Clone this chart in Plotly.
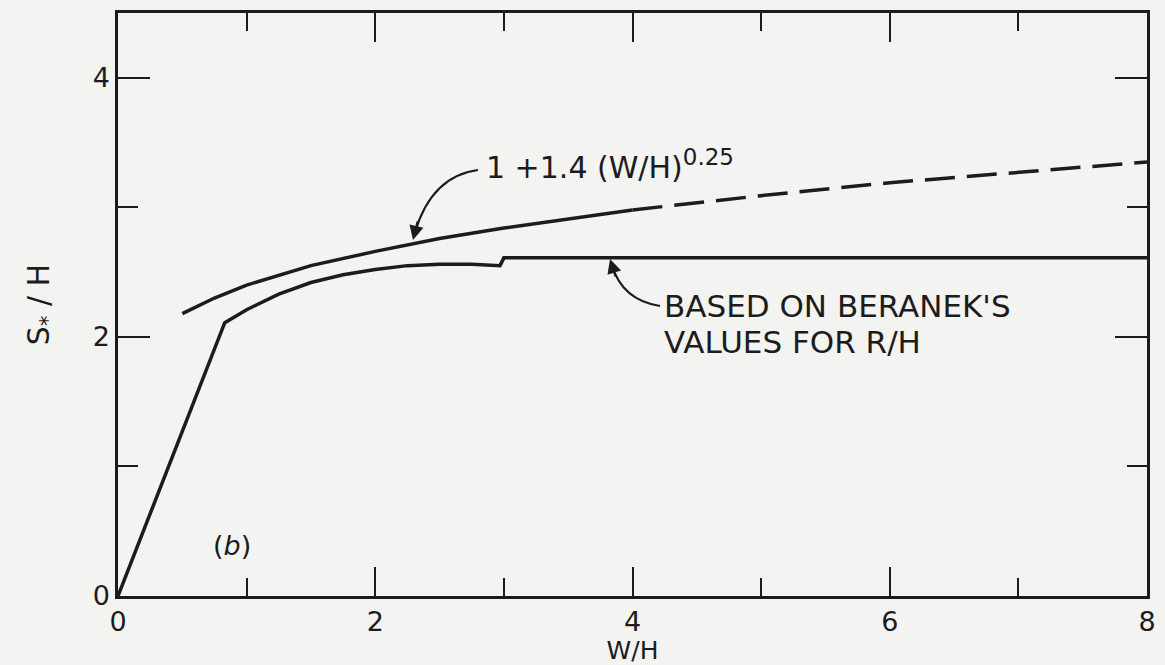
import plotly.graph_objects as go

# Curve 1: 1 + 1.4 (W/H)^0.25
fit_x_solid = [0.5, 0.75, 1.0, 1.5, 2.0, 2.5, 3.0, 3.5, 4.0]
fit_y_solid = [2.18, 2.30, 2.40, 2.55, 2.66, 2.76, 2.84, 2.91, 2.98]
fit_x_dash = [4.0, 5.0, 6.0, 7.0, 8.0]
fit_y_dash = [2.98, 3.09, 3.19, 3.27, 3.35]

# Curve 2: based on Beranek's values for R/H
ber_x = [0.0, 0.83, 1.0, 1.25, 1.5, 1.75, 2.0, 2.25, 2.5, 2.75, 2.97, 3.0, 8.0]
ber_y = [0.0, 2.11, 2.21, 2.33, 2.42, 2.48, 2.52, 2.55, 2.56, 2.56, 2.55, 2.61, 2.61]

x_tickvals = [0, 2, 4, 6, 8]
y_tickvals = [0, 2, 4]

INK = "#1c1c1c"
BG = "#f3f3f1"
FONT = "DejaVu Sans"

W, H = 1165, 665
ML, MR, MT, MB = 118, 18, 13, 69
XR = [0, 8]
YR = [0, 4.5]


def dx(px):
    return XR[0] + (px - ML) * (XR[1] - XR[0]) / (W - ML - MR)


def dy(py):
    return YR[0] + (H - MB - py) * (YR[1] - YR[0]) / (H - MT - MB)


fig = go.Figure()
fig.add_trace(go.Scatter(x=fit_x_solid, y=fit_y_solid, mode="lines",
                         line=dict(color=INK, width=3.5), showlegend=False))
fig.add_trace(go.Scatter(x=fit_x_dash, y=fit_y_dash, mode="lines",
                         line=dict(color=INK, width=3.5, dash="30px,12px"), showlegend=False))
fig.add_trace(go.Scatter(x=ber_x, y=ber_y, mode="lines",
                         line=dict(color=INK, width=3.5), showlegend=False))

axis_common = dict(
    showgrid=False, zeroline=False, showline=True, linecolor=INK, linewidth=2.5,
    mirror="ticks", ticks="inside", tickcolor=INK, tickwidth=2, automargin=False,
    tickfont=dict(family=FONT, size=27, color=INK),
)

fig.update_xaxes(range=XR, tickvals=x_tickvals, ticklen=29,
                 minor=dict(dtick=1, ticks="inside", ticklen=18, tickcolor=INK, tickwidth=2),
                 title=dict(text="W/H", font=dict(family=FONT, size=25, color=INK), standoff=6),
                 **axis_common)
fig.update_yaxes(range=YR, tickvals=y_tickvals, ticklen=32,
                 minor=dict(dtick=1, ticks="inside", ticklen=20, tickcolor=INK, tickwidth=2),
                 title=dict(text="S<sub>*</sub> / H", font=dict(family=FONT, size=30, color=INK), standoff=35),
                 **axis_common)

# curved arrow shafts (hand-drawn leaders)
def qpath(p0, c, p2):
    return "M %f,%f Q %f,%f %f,%f" % (dx(p0[0]), dy(p0[1]), dx(c[0]), dy(c[1]), dx(p2[0]), dy(p2[1]))

fig.add_shape(type="path", xref="x", yref="y", path=qpath((478, 170), (432, 176), (415, 232)),
              line=dict(color=INK, width=2.2))
fig.add_shape(type="path", xref="x", yref="y", path=qpath((660, 306), (622, 300), (612, 265)),
              line=dict(color=INK, width=2.2))
# arrowheads
fig.add_annotation(x=dx(413), y=dy(240), ax=5, ay=-20, xref="x", yref="y", text="",
                   showarrow=True, arrowhead=2, arrowsize=1.3, arrowwidth=2.2, arrowcolor=INK)
fig.add_annotation(x=dx(610), y=dy(259), ax=6, ay=19, xref="x", yref="y", text="",
                   showarrow=True, arrowhead=2, arrowsize=1.3, arrowwidth=2.2, arrowcolor=INK)

fig.add_annotation(x=dx(484), y=dy(164), xref="x", yref="y", xanchor="left", yanchor="middle",
                   text="1 +1.4 (W/H)<sup><span style='font-size:23px'>0.25</span></sup>",
                   font=dict(family=FONT, size=30, color=INK), showarrow=False)
fig.add_annotation(x=dx(662), y=dy(306), xref="x", yref="y", xanchor="left", yanchor="middle",
                   text="BASED ON BERANEK'S", font=dict(family=FONT, size=31, color=INK), showarrow=False)
fig.add_annotation(x=dx(662), y=dy(342), xref="x", yref="y", xanchor="left", yanchor="middle",
                   text="VALUES FOR R/H", font=dict(family=FONT, size=31, color=INK), showarrow=False)
fig.add_annotation(x=0.89, y=0.39, xref="x", yref="y", text="(<i>b</i>)", showarrow=False,
                   font=dict(family=FONT, size=27, color=INK))

fig.update_layout(
    width=W, height=H,
    margin=dict(l=ML, r=MR, t=MT, b=MB),
    paper_bgcolor=BG, plot_bgcolor=BG,
    showlegend=False,
)

fig.write_html("out.html", config={"displayModeBar": False},
               post_script="document.body.style.margin='0';document.body.style.background='%s';" % BG)
